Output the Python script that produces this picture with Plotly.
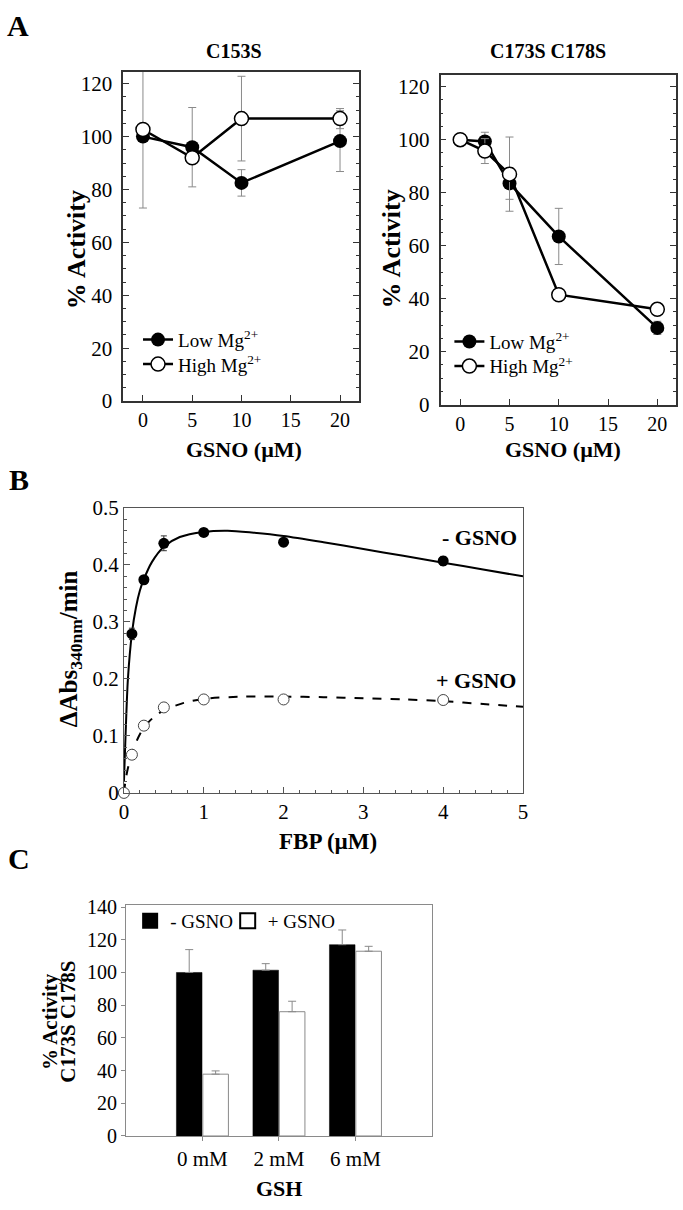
import plotly.graph_objects as go

SERIF = "Liberation Serif, Times New Roman, serif"
W, H = 683, 1210

# ---------------- Panel A data ----------------
gsno_c153s = [0, 5, 10, 20]
c153s_low = [100, 96, 82.5, 98.3]
c153s_low_err = [27, 15, 5, 11.5]
c153s_high = [102.7, 92, 106.8, 106.8]
c153s_high_err = [None, None, 16, 3.8]

gsno_dm = [0, 2.5, 5, 10, 20]
dm_low = [100, 99.3, 83.5, 63.5, 29]
dm_low_err = [None, 3.5, 6, 10.6, 2.5]
dm_high = [100, 95.7, 87, 41.5, 36]
dm_high_err = [None, 4.7, 14, None, None]

# ---------------- Panel B data ----------------
fbp_minus = [0.1, 0.25, 0.5, 1, 2, 4]
rate_minus = [0.279, 0.374, 0.438, 0.457, 0.440, 0.407]
rate_minus_err = [0.010, 0.006, 0.013, 0.006, 0.007, 0.008]
fbp_plus = [0, 0.1, 0.25, 0.5, 1, 2, 4]
rate_plus = [0.0, 0.067, 0.118, 0.150, 0.164, 0.164, 0.163]

fit_x_minus = [0, 0.02, 0.05, 0.1, 0.15, 0.2, 0.25, 0.35, 0.5, 0.7, 1.0, 1.3,
               1.6, 2.0, 2.5, 3.0, 3.5, 4.0, 4.5, 5.0]
fit_minus = [0.02, 0.1, 0.2, 0.28, 0.325, 0.355, 0.375, 0.405, 0.432, 0.449,
             0.458, 0.46, 0.457, 0.451, 0.440, 0.428, 0.416, 0.404, 0.392, 0.380]
fit_x_plus = [0, 0.03, 0.1, 0.2, 0.3, 0.4, 0.5, 0.75, 1.0, 1.5, 2.0, 2.5, 3.0,
              3.5, 4.0, 4.5, 5.0]
fit_plus = [0.0, 0.03, 0.07, 0.103, 0.123, 0.136, 0.145, 0.158, 0.165, 0.169,
            0.169, 0.168, 0.166, 0.164, 0.161, 0.156, 0.151]

# ---------------- Panel C data ----------------
gsh = ["0 mM", "2 mM", "6 mM"]
c_minus = [100, 101.4, 117]
c_minus_err = [14, 4, 9]
c_plus = [37.8, 76, 113]
c_plus_err = [2, 6.4, 3]

fig = go.Figure()

# ---- Panel A left ----
err_a = dict(type="data", color="#8a8a8a", thickness=1, width=4)
fig.add_trace(go.Scatter(x=gsno_c153s, y=c153s_low, mode="lines+markers",
                         line=dict(color="black", width=2.5),
                         marker=dict(color="black", size=14),
                         error_y=dict(array=c153s_low_err, **err_a),
                         name="Low Mg<sup>2+</sup>", legend="legend",
                         xaxis="x", yaxis="y"))
fig.add_trace(go.Scatter(x=gsno_c153s, y=c153s_high, mode="lines+markers",
                         line=dict(color="black", width=2.5),
                         marker=dict(color="white", size=14, line=dict(color="black", width=1.5)),
                         error_y=dict(array=c153s_high_err, **err_a),
                         name="High Mg<sup>2+</sup>", legend="legend2",
                         xaxis="x", yaxis="y"))
# ---- Panel A right ----
fig.add_trace(go.Scatter(x=gsno_dm, y=dm_low, mode="lines+markers",
                         line=dict(color="black", width=2.5),
                         marker=dict(color="black", size=14),
                         error_y=dict(array=dm_low_err, **err_a),
                         name="Low Mg<sup>2+</sup>", legend="legend3",
                         xaxis="x2", yaxis="y2"))
fig.add_trace(go.Scatter(x=gsno_dm, y=dm_high, mode="lines+markers",
                         line=dict(color="black", width=2.5),
                         marker=dict(color="white", size=14, line=dict(color="black", width=1.5)),
                         error_y=dict(array=dm_high_err, **err_a),
                         name="High Mg<sup>2+</sup>", legend="legend4",
                         xaxis="x2", yaxis="y2"))

# ---- Panel B ----
fig.add_trace(go.Scatter(x=fit_x_minus, y=fit_minus, mode="lines",
                         line=dict(color="black", width=2, shape="spline", smoothing=0.8),
                         showlegend=False, xaxis="x3", yaxis="y3"))
fig.add_trace(go.Scatter(x=fit_x_plus, y=fit_plus, mode="lines",
                         line=dict(color="black", width=2, dash="dash", shape="spline", smoothing=0.8),
                         showlegend=False, xaxis="x3", yaxis="y3"))
fig.add_trace(go.Scatter(x=fbp_minus, y=rate_minus, mode="markers",
                         marker=dict(color="black", size=11),
                         error_y=dict(type="data", array=rate_minus_err, color="#333",
                                      thickness=1, width=3),
                         cliponaxis=False,
                         showlegend=False, xaxis="x3", yaxis="y3"))
fig.add_trace(go.Scatter(x=fbp_plus, y=rate_plus, mode="markers",
                         marker=dict(color="white", size=11, line=dict(color="#444", width=1)),
                         cliponaxis=False,
                         showlegend=False, xaxis="x3", yaxis="y3"))

# ---- Panel C ----
fig.add_trace(go.Bar(x=gsh, y=c_minus, name="- GSNO",
                     marker=dict(color="black", line=dict(color="black", width=0.5)),
                     error_y=dict(type="data", symmetric=False, array=c_minus_err,
                                  arrayminus=[0, 0, 0], color="#8a8a8a", thickness=1, width=4),
                     showlegend=False, xaxis="x4", yaxis="y4"))
fig.add_trace(go.Bar(x=gsh, y=c_plus, name="+ GSNO",
                     marker=dict(color="white", line=dict(color="#8a8a8a", width=1)),
                     error_y=dict(type="data", symmetric=False, array=c_plus_err,
                                  arrayminus=[0, 0, 0], color="#8a8a8a", thickness=1, width=4),
                     showlegend=False, xaxis="x4", yaxis="y4"))
# legend-only entries for panel C
fig.add_trace(go.Scatter(x=[None], y=[None], mode="markers", name="- GSNO",
                         marker=dict(symbol="square", color="black", size=16),
                         legend="legend5", xaxis="x4", yaxis="y4"))
fig.add_trace(go.Scatter(x=[None], y=[None], mode="markers", name="+ GSNO",
                         marker=dict(symbol="square", color="white", size=15,
                                     line=dict(color="black", width=2)),
                         legend="legend6", xaxis="x4", yaxis="y4"))


def dom_x(a, b):
    return [a / W, b / W]


def dom_y(top, bottom):
    return [1 - bottom / H, 1 - top / H]


tickfont = dict(family=SERIF, size=21, color="black")
tickfont_a_x = dict(family=SERIF, size=20, color="black")

axA = dict(showline=True, linecolor="#333", linewidth=1.5, mirror=True,
           showgrid=False, zeroline=False, ticks="inside", ticklen=6,
           tickcolor="#333", tickfont=tickfont)


def leg(x, y, **kw):
    d = dict(x=x / W, y=1 - y / H, xanchor="left", yanchor="top",
             font=dict(family=SERIF, size=19, color="black"),
             bgcolor="rgba(0,0,0,0)", itemwidth=30)
    d.update(kw)
    return d


layout = dict(
    width=W, height=H, margin=dict(l=0, r=0, t=0, b=0),
    paper_bgcolor="white", plot_bgcolor="white",
    font=dict(family=SERIF, color="black"),
    bargap=0.31, bargroupgap=0.03, barmode="group",
    xaxis=dict(axA, domain=dom_x(120, 359), anchor="y", range=[-2, 21.9],
               tickvals=[0, 5, 10, 15, 20], tickfont=tickfont_a_x),
    yaxis=dict(axA, domain=dom_y(61, 397), anchor="x", range=[0, 124.5],
               dtick=20, tick0=0, mirror="ticks", ticklabelstandoff=5,
               minor=dict(dtick=5, ticklen=3, ticks="inside", tickcolor="#333")),
    xaxis2=dict(axA, domain=dom_x(442, 681), anchor="y2", range=[-2, 21.9],
                tickvals=[0, 5, 10, 15, 20], tickfont=tickfont_a_x),
    yaxis2=dict(axA, domain=dom_y(64, 400.7), anchor="x2", range=[0, 124.5],
                dtick=20, tick0=0, mirror="ticks", ticklabelstandoff=5,
                minor=dict(dtick=5, ticklen=3, ticks="inside", tickcolor="#333")),
    xaxis3=dict(showline=True, linecolor="#555", linewidth=1, mirror=True,
                showgrid=False, zeroline=False, ticks="inside", ticklen=6,
                tickcolor="#555", tickfont=tickfont,
                domain=dom_x(120.7, 525.7), anchor="y3", range=[0, 5], dtick=1,
                minor=dict(dtick=0.2, ticklen=3, ticks="inside", tickcolor="#555")),
    yaxis3=dict(showline=True, linecolor="#555", linewidth=1, mirror=True,
                showgrid=False, zeroline=False, ticks="inside", ticklen=6,
                tickcolor="#555", tickfont=tickfont,
                domain=dom_y(506, 796.7), anchor="x3", range=[0, 0.5], dtick=0.1,
                minor=dict(dtick=0.02, ticklen=3, ticks="inside", tickcolor="#555")),
    xaxis4=dict(showline=True, linecolor="#8a8a8a", linewidth=1, mirror=True,
                showgrid=False, zeroline=False, ticks="outside", ticklen=4,
                tickcolor="#8a8a8a", tickfont=tickfont, type="category",
                domain=dom_x(122.7, 433.3), anchor="y4", range=[-1, 3]),
    yaxis4=dict(showline=True, linecolor="#8a8a8a", linewidth=1, mirror=True,
                showgrid=False, zeroline=False, ticks="outside", ticklen=4,
                tickcolor="#8a8a8a", tickfont=dict(family=SERIF, size=20, color="black"),
                domain=dom_y(910.7, 1146.7), anchor="x4", range=[0, 141.5], dtick=20),
    legend=leg(135, 315),
    legend2=leg(135, 340),
    legend3=leg(451, 317),
    legend4=leg(451, 342),
    legend5=leg(127, 908),
    legend6=leg(226, 908),
)
fig.update_layout(**layout)


def ann(text, x, y, size, angle=0, bold=True):
    t = f"<b>{text}</b>" if bold else text
    fig.add_annotation(text=t, x=x / W, y=1 - y / H, xref="paper", yref="paper",
                       xanchor="center", yanchor="middle", showarrow=False,
                       textangle=angle, font=dict(family=SERIF, size=size, color="black"))


# Panel letters
ann("A", 13, 14, 30)
ann("B", 14, 477, 30)
ann("C", 14, 864, 30)
# Panel A titles
ann("C153S", 232, 40, 20)
ann("C173S C178S", 551, 40, 20)
ann("% Activity", 72, 242, 26, -90)
ann("% Activity", 392, 242, 26, -90)
ann("GSNO (µM)", 243, 446, 22)
ann("GSNO (µM)", 566, 446, 22)
# Panel B
ann("ΔAbs<sub>340nm</sub>/min", 66, 650, 25, -90)
ann("FBP (µM)", 328, 846, 23)
fig.add_annotation(text="<b>- GSNO</b>", x=4.45, y=0.449, xref="x3", yref="y3",
                   showarrow=False, xanchor="center", yanchor="middle",
                   font=dict(family=SERIF, size=22, color="black"))
fig.add_annotation(text="<b>+ GSNO</b>", x=4.41, y=0.197, xref="x3", yref="y3",
                   showarrow=False, xanchor="center", yanchor="middle",
                   font=dict(family=SERIF, size=22, color="black"))
# Panel C
ann("% Activity", 45, 1030, 21, -90)
ann("C173S C178S", 64, 1030, 21, -90)
ann("GSH", 278, 1200, 22)

# remove the default page margin so the figure sits at the window's top-left corner
fig.write_html("out.html", config={"displayModeBar": False},
               post_script="document.body.style.margin='0px';")
